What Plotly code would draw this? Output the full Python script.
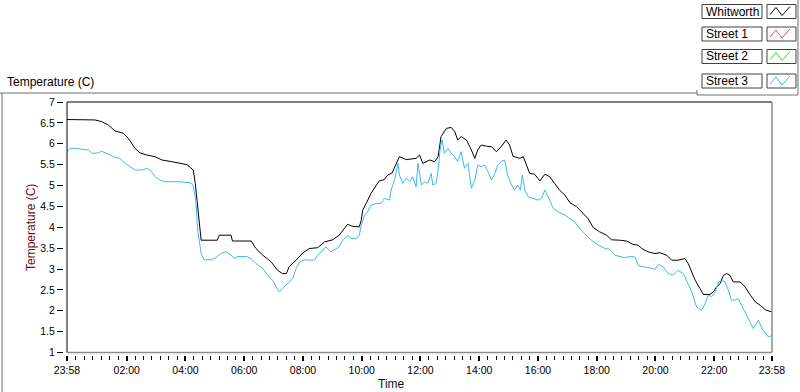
import pandas as pd
import plotly.graph_objects as go

# ---------------- data ----------------
start_time = "2000-01-01 23:58"

whitworth_min = [0, 57, 71, 84, 98, 115, 125, 132, 139, 149, 163, 180, 194, 214, 228, 245, 252, 258,
                 262, 268, 274, 307, 311, 335, 338, 376, 386, 400, 417, 430, 440, 448, 454, 468, 481,
                 495, 505, 512, 526, 543, 556, 563, 573, 584, 597, 601, 604, 611, 621, 632, 638, 648,
                 655, 664, 672, 679, 693, 706, 713, 720, 727, 741, 751, 758, 764, 775, 785, 792, 798,
                 805, 816, 826, 833, 839, 846, 857, 867, 877, 887, 897, 904, 911, 925, 932, 938, 945,
                 955, 966, 976, 986, 996, 1006, 1017, 1027, 1041, 1051, 1064, 1075, 1088, 1102, 1112,
                 1129, 1143, 1156, 1167, 1174, 1187, 1201, 1211, 1225, 1235, 1248, 1262, 1269, 1276,
                 1283, 1293, 1300, 1313, 1320, 1327, 1334, 1341, 1347, 1354, 1361, 1375, 1385, 1396,
                 1406, 1416, 1427, 1440]
whitworth_temp = [6.58, 6.57, 6.53, 6.45, 6.31, 6.25, 6.13, 6.01, 5.89, 5.78, 5.73, 5.69, 5.61, 5.57,
                  5.53, 5.50, 5.43, 5.37, 5.05, 4.40, 3.69, 3.69, 3.81, 3.81, 3.67, 3.67, 3.49, 3.33,
                  3.17, 2.97, 2.89, 2.89, 3.06, 3.21, 3.38, 3.49, 3.50, 3.51, 3.65, 3.70, 3.81, 3.93,
                  4.07, 4.02, 4.01, 4.17, 4.41, 4.57, 4.81, 5.01, 5.11, 5.14, 5.25, 5.30, 5.49, 5.69,
                  5.62, 5.63, 5.65, 5.73, 5.53, 5.61, 5.57, 5.69, 6.17, 6.37, 6.39, 6.29, 6.09, 6.17,
                  6.09, 5.85, 5.65, 5.85, 5.97, 5.94, 5.93, 5.81, 5.93, 6.09, 5.97, 5.70, 5.65, 5.69,
                  5.49, 5.29, 5.27, 5.11, 5.27, 5.21, 5.05, 4.89, 4.77, 4.59, 4.49, 4.37, 4.21, 3.99,
                  3.89, 3.81, 3.70, 3.69, 3.67, 3.59, 3.57, 3.49, 3.41, 3.37, 3.39, 3.33, 3.21, 3.21,
                  3.25, 3.13, 2.93, 2.73, 2.53, 2.39, 2.39, 2.45, 2.57, 2.65, 2.85, 2.89, 2.85, 2.69,
                  2.69, 2.57, 2.37, 2.21, 2.13, 2.02, 1.97]

street3_min = [0, 6, 16, 33, 44, 51, 64, 71, 81, 95, 108, 119, 129, 139, 153, 163, 170, 180, 190, 200,
               231, 254, 258, 263, 267, 274, 280, 294, 304, 314, 325, 335, 342, 348, 366, 376, 386,
               400, 410, 420, 427, 434, 440, 451, 461, 468, 475, 485, 495, 505, 512, 522, 529, 539,
               550, 556, 563, 573, 580, 591, 597, 601, 608, 614, 621, 632, 642, 648, 659, 662, 669,
               674, 676, 679, 686, 693, 700, 706, 713, 717, 724, 730, 737, 744, 747, 754, 758, 762,
               766, 771, 778, 785, 792, 798, 805, 812, 819, 826, 833, 839, 846, 853, 860, 867, 874,
               880, 887, 894, 900, 908, 914, 921, 926, 930, 935, 942, 952, 962, 969, 976, 986, 993,
               1003, 1017, 1027, 1037, 1047, 1061, 1071, 1085, 1099, 1109, 1119, 1139, 1149, 1160,
               1167, 1177, 1190, 1201, 1208, 1218, 1228, 1238, 1248, 1259, 1266, 1276, 1286, 1296,
               1303, 1310, 1317, 1324, 1331, 1337, 1344, 1351, 1357, 1364, 1371, 1381, 1392, 1402,
               1412, 1422, 1433, 1440]
street3_temp = [5.81, 5.89, 5.89, 5.86, 5.85, 5.77, 5.78, 5.82, 5.77, 5.69, 5.65, 5.53, 5.45, 5.37,
                5.37, 5.41, 5.37, 5.21, 5.13, 5.09, 5.09, 5.06, 4.98, 4.65, 3.93, 3.37, 3.22, 3.22,
                3.27, 3.37, 3.41, 3.33, 3.25, 3.30, 3.30, 3.25, 3.13, 3.01, 2.85, 2.73, 2.57, 2.45,
                2.53, 2.65, 2.77, 3.01, 3.17, 3.22, 3.21, 3.21, 3.33, 3.45, 3.53, 3.41, 3.49, 3.53,
                3.69, 3.81, 3.73, 3.73, 3.81, 4.05, 4.29, 4.37, 4.53, 4.57, 4.57, 4.69, 4.65, 4.89,
                5.13, 5.37, 5.53, 5.25, 5.05, 5.17, 5.09, 5.21, 4.97, 5.53, 5.01, 5.09, 5.05, 5.29,
                5.01, 5.05, 5.37, 5.85, 6.09, 5.77, 5.89, 5.77, 5.69, 5.57, 5.81, 5.41, 5.53, 4.93,
                5.13, 5.49, 5.45, 5.49, 5.33, 5.13, 5.29, 5.49, 5.57, 5.61, 5.25, 5.01, 4.89, 5.01,
                4.89, 5.25, 4.89, 4.73, 4.69, 4.65, 4.69, 4.89, 4.65, 4.45, 4.37, 4.29, 4.21, 4.13,
                3.97, 3.81, 3.69, 3.57, 3.49, 3.47, 3.33, 3.27, 3.30, 3.29, 3.09, 3.05, 3.03, 2.99,
                3.11, 3.05, 2.89, 2.85, 2.97, 2.89, 2.69, 2.45, 2.09, 2.01, 2.17, 2.37, 2.34, 2.45,
                2.69, 2.73, 2.69, 2.49, 2.26, 2.25, 2.29, 2.05, 1.77, 1.57, 1.77, 1.53, 1.37, 1.41]

series_names = ["Whitworth", "Street 1", "Street 2", "Street 3"]
series_colors = ["#000000", "#ff3b3b", "#22dd22", "#3db8f5"]

x_tick_labels = ["23:58", "02:00", "04:00", "06:00", "08:00", "10:00", "12:00",
                 "14:00", "16:00", "18:00", "20:00", "22:00", "23:58"]
y_tick_values = [1, 1.5, 2, 2.5, 3, 3.5, 4, 4.5, 5, 5.5, 6, 6.5, 7]

# ---------------- build ----------------
base = pd.Timestamp(start_time)
end = base + pd.Timedelta(hours=24)
x_wh = base + pd.to_timedelta(whitworth_min, unit="min")
x_s3 = base + pd.to_timedelta(street3_min, unit="min")

# major tick positions from labels
major = [base]
for lab in x_tick_labels[1:-1]:
    hh, mm = map(int, lab.split(":"))
    major.append(pd.Timestamp("2000-01-02") + pd.Timedelta(hours=hh, minutes=mm))
major.append(end)
minor = []
for a, b in zip(major[:-1], major[1:]):
    for k in range(1, 7):
        minor.append(a + (b - a) * k / 7)

FONT = "Liberation Sans"
W_, H_ = 800, 392
L, R, T, B = 63, 28, 102, 37   # paper area in px
PW, PH = W_ - L - R, H_ - T - B
plot_left, plot_bottom = 67, 352.5


def px(xp):
    return (xp - L) / PW


def py(yp):
    return (H_ - B - yp) / PH


fig = go.Figure()
fig.add_trace(go.Scatter(x=x_wh, y=whitworth_temp, mode="lines", name=series_names[0],
                         line=dict(color=series_colors[0], width=1)))
fig.add_trace(go.Scatter(x=x_s3, y=street3_temp, mode="lines", name=series_names[3],
                         line=dict(color=series_colors[3], width=1)))

shapes = []
annotations = []

# plot frame
shapes += [
    dict(type="line", xref="x domain", yref="y domain", x0=0, x1=0, y0=0, y1=1,
         line=dict(color="black", width=1)),
    dict(type="line", xref="x domain", yref="y domain", x0=0, x1=1, y0=1, y1=1,
         line=dict(color="black", width=1)),
    dict(type="line", xref="x domain", yref="y domain", x0=1, x1=1, y0=0, y1=1,
         line=dict(color="#8a8a8a", width=1.5)),
    dict(type="line", xref="x domain", yref="y domain", x0=0, x1=1, y0=0, y1=0,
         line=dict(color="#8a8a8a", width=1.5)),
]
# outer panel lines
shapes += [
    dict(type="line", xref="paper", yref="paper", x0=px(0), x1=px(697), y0=py(93), y1=py(93),
         line=dict(color="#707070", width=1)),
    dict(type="line", xref="paper", yref="paper", x0=px(2), x1=px(2), y0=py(93), y1=py(392),
         line=dict(color="#707070", width=1)),
    dict(type="line", xref="paper", yref="paper", x0=px(697), x1=px(798), y0=py(95), y1=py(95),
         line=dict(color="#707070", width=1)),
    dict(type="line", xref="paper", yref="paper", x0=px(697), x1=px(697), y0=py(90), y1=py(95),
         line=dict(color="#707070", width=1)),
    dict(type="line", xref="paper", yref="paper", x0=px(798), x1=px(798), y0=py(0), y1=py(95),
         line=dict(color="#707070", width=1)),
]

# custom legend
row_tops = [4.5, 27, 49.5, 74]
for name, color, top in zip(series_names, series_colors, row_tops):
    bot = top + 14
    shapes.append(dict(type="rect", xref="paper", yref="paper", x0=px(702), x1=px(762),
                       y0=py(bot), y1=py(top), line=dict(color="#404040", width=1),
                       fillcolor="white"))
    shapes.append(dict(type="rect", xref="paper", yref="paper", x0=px(767), x1=px(796),
                       y0=py(bot), y1=py(top), line=dict(color="#404040", width=1),
                       fillcolor="white"))
    pts = [(770, top + 10), (776, top + 3), (782, top + 11), (790, top + 2)]
    path = "M " + " L ".join(f"{px(a)},{py(b)}" for a, b in pts)
    shapes.append(dict(type="path", xref="paper", yref="paper", path=path,
                       line=dict(color=color, width=1)))
    annotations.append(dict(xref="paper", yref="paper", x=px(704), y=py(top + 7), text=name,
                            showarrow=False, xanchor="left", yanchor="middle",
                            font=dict(family=FONT, size=12, color="black")))

# titles
annotations.append(dict(xref="paper", yref="paper", x=px(5), y=py(82), text="Temperature (C)",
                        showarrow=False, xanchor="left", yanchor="middle",
                        font=dict(family=FONT, size=12, color="black")))
annotations.append(dict(xref="paper", yref="paper", x=px(391), y=py(384), text="Time",
                        showarrow=False, xanchor="center", yanchor="middle",
                        font=dict(family=FONT, size=12, color="#101030")))
annotations.append(dict(xref="paper", yref="paper", x=px(31), y=py(228), text="Temperature (C)",
                        showarrow=False, xanchor="center", yanchor="middle", textangle=-90,
                        font=dict(family=FONT, size=12, color="#6b0f0f")))

fig.update_layout(
    width=W_, height=H_,
    margin=dict(l=L, r=R, t=T, b=B, pad=0),
    paper_bgcolor="white", plot_bgcolor="white",
    showlegend=False,
    shapes=shapes, annotations=annotations,
    xaxis=dict(
        domain=[px(plot_left), 1], anchor="free", position=0,
        range=[base, end], showgrid=False, zeroline=False, showline=False,
        tickmode="array", tickvals=major, ticktext=x_tick_labels,
        ticks="outside", ticklen=5, tickwidth=2, tickcolor="black",
        tickfont=dict(family=FONT, size=10.5, color="black"),
        minor=dict(tickmode="array", tickvals=minor, ticks="outside", ticklen=4,
                   tickwidth=1, tickcolor="black", showgrid=False),
    ),
    yaxis=dict(
        domain=[py(plot_bottom), 1], anchor="free", position=0,
        range=[1, 7], showgrid=False, zeroline=False, showline=False,
        tickmode="array", tickvals=y_tick_values,
        ticks="outside", ticklen=6, tickwidth=1, tickcolor="black",
        tickfont=dict(family=FONT, size=10.5, color="black"),
    ),
)

fig.write_html("out.html", config={"displayModeBar": False},
               post_script="document.body.style.margin='0px';document.body.style.overflow='hidden';")
